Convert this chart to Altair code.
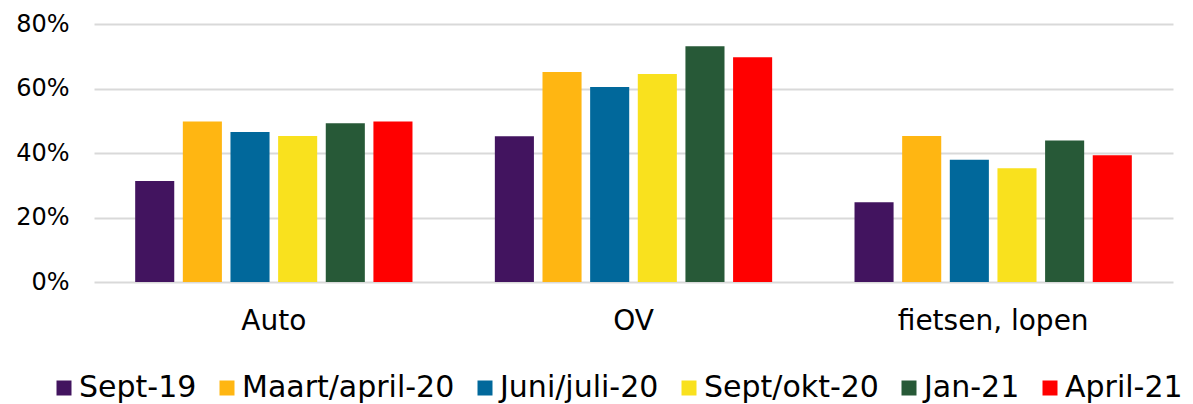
import altair as alt
import pandas as pd

categories = ["Auto", "OV", "fietsen, lopen"]
periods = ["Sept-19", "Maart/april-20", "Juni/juli-20", "Sept/okt-20", "Jan-21", "April-21"]
colors = ["#42145F", "#FFB612", "#01689B", "#F9E11E", "#275937", "#FF0000"]

auto_vals = [0.313, 0.498, 0.465, 0.453, 0.492, 0.498]
ov_vals = [0.452, 0.651, 0.605, 0.645, 0.731, 0.697]
fiets_vals = [0.247, 0.453, 0.379, 0.353, 0.439, 0.393]

y_ticks = [0, 0.2, 0.4, 0.6, 0.8]

rows = []
for cat, vals in zip(categories, [auto_vals, ov_vals, fiets_vals]):
    for p, v in zip(periods, vals):
        rows.append({"categorie": cat, "periode": p, "waarde": v})
df = pd.DataFrame(rows)

FONT = "Verdana, DejaVu Sans"

chart = alt.Chart(df).mark_bar().encode(
    x=alt.X("categorie:N", sort=categories,
            scale=alt.Scale(paddingInner=0.229, paddingOuter=0.1145),
            axis=alt.Axis(title=None, labelAngle=0, ticks=False, tickSize=0, domain=False,
                          labelFontSize=28, labelPadding=25, labelColor="#000000",
                          labelFont=FONT, grid=False, labelLimit=500)),
    xOffset=alt.XOffset("periode:N", sort=periods,
                        scale=alt.Scale(paddingInner=0.18, paddingOuter=0)),
    y=alt.Y("waarde:Q", scale=alt.Scale(domain=[0, 0.8], nice=False),
            axis=alt.Axis(title=None, values=y_ticks, format=".0%", ticks=False, tickSize=0,
                          domain=False, labelFontSize=24, labelPadding=25,
                          labelColor="#000000", labelFont=FONT,
                          grid=True, gridColor="#D9D9D9", gridWidth=2)),
    color=alt.Color("periode:N", sort=periods,
                    scale=alt.Scale(domain=periods, range=colors),
                    legend=alt.Legend(title=None, orient="none", direction="horizontal",
                                      legendX=-45, legendY=349, symbolType="square",
                                      symbolSize=225, symbolStrokeWidth=0,
                                      labelFontSize=30, labelFont=FONT, labelColor="#000000",
                                      labelOffset=0, columnPadding=15, labelLimit=500,
                                      padding=0)),
).properties(
    width=1079, height=258,
    autosize=alt.AutoSizeParams(type="none"),
    padding={"left": 86, "top": 16, "right": 12, "bottom": 122},
).configure_view(stroke=None)

chart.save("out.html", embed_options={"renderer": "svg", "actions": False})
